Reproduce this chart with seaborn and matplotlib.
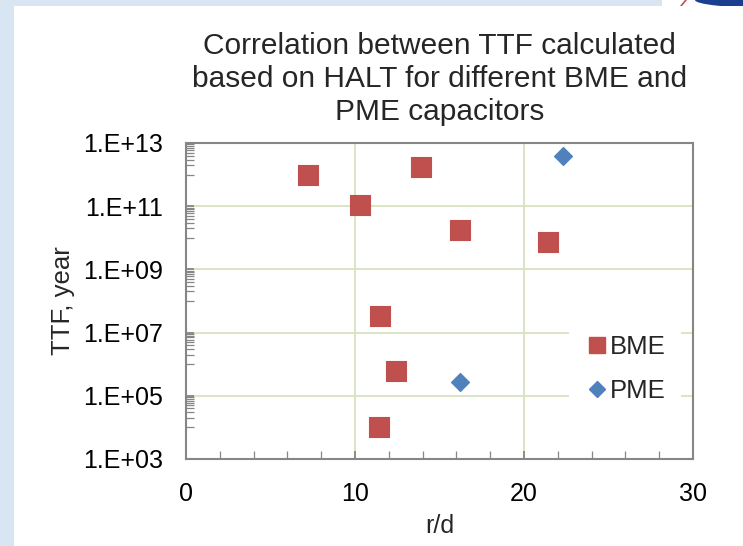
import numpy as np
import pandas as pd
import matplotlib
matplotlib.use("Agg")
import matplotlib.pyplot as plt
import matplotlib.ticker as mticker
from matplotlib.lines import Line2D
from matplotlib.patches import Rectangle, Ellipse
import seaborn as sns

# ---- data ----
bme_rd = [7.2, 10.3, 13.9, 16.2, 21.4, 11.5, 12.4, 11.4]
bme_ttf = [9.5e11, 1.1e11, 1.7e12, 1.8e10, 7.4e9, 3.4e7, 6.0e5, 1.0e4]
pme_rd = [16.2, 22.3]
pme_ttf = [2.8e5, 3.9e12]
series_names = ["BME", "PME"]
y_tick_vals = [1e3, 1e5, 1e7, 1e9, 1e11, 1e13]
y_tick_labels = ["1.E+03", "1.E+05", "1.E+07", "1.E+09", "1.E+11", "1.E+13"]
x_tick_vals = [0, 10, 20, 30]

df = pd.DataFrame({
    "rd": bme_rd + pme_rd,
    "ttf": bme_ttf + pme_ttf,
    "type": ["BME"] * len(bme_rd) + ["PME"] * len(pme_rd),
})

sns.set_style("white")
plt.rcParams["font.family"] = ["Liberation Sans", "DejaVu Sans"]

W, H = 743, 546
fig = plt.figure(figsize=(W / 100, H / 100), dpi=100)
fig.patch.set_facecolor("#d8e6f3")
# white slide panel
fig.patches.append(Rectangle((14 / W, 0), 1, 1 - 6 / H, transform=fig.transFigure,
                             facecolor="white", edgecolor="none", zorder=-10))
# top-right logo fragment
fig.patches.append(Rectangle((662 / W, 1 - 6 / H), 1, 6 / H, transform=fig.transFigure,
                             facecolor="white", edgecolor="none", zorder=-12))
fig.patches.append(Ellipse((770 / W, 1.0), 150 / W, 16 / H, transform=fig.transFigure,
                           facecolor="#1b3f8f", edgecolor="none", zorder=-11))
fig.lines.append(Line2D([681 / W, 686 / W], [1 - 6 / H, 1.0], transform=fig.transFigure,
                        color="#c05050", linewidth=1.2, zorder=-11))

ax = fig.add_axes([186 / W, 1 - 459 / H, (693 - 186) / W, (459 - 143) / H])
ax.set_zorder(5)
ax.set_facecolor("white")

colors = {"BME": "#c0504d", "PME": "#4f81bd"}
sns.scatterplot(data=df[df.type == "BME"], x="rd", y="ttf", ax=ax, marker="s",
                color=colors["BME"], s=200, edgecolor=colors["BME"], linewidth=0.8,
                legend=False, zorder=3)
sns.scatterplot(data=df[df.type == "PME"], x="rd", y="ttf", ax=ax, marker="D",
                color=colors["PME"], s=85, edgecolor=colors["PME"], linewidth=0.8,
                legend=False, zorder=3)

ax.set_yscale("log")
ax.set_xlim(0, 30)
ax.set_ylim(1e3, 1e13)
ax.set_yticks(y_tick_vals)
ax.set_yticklabels(y_tick_labels)
ax.set_xticks(x_tick_vals)
minor_y = [k * 10.0 ** e for e in range(4, 13, 2) for k in range(1, 10)]
ax.yaxis.set_minor_locator(mticker.FixedLocator(minor_y))
ax.yaxis.set_minor_formatter(mticker.NullFormatter())
ax.xaxis.set_minor_locator(mticker.MultipleLocator(2))

ax.grid(True, which="major", color="#d7e4bd", linewidth=1.3, zorder=0)
ax.set_axisbelow(True)
for sp in ax.spines.values():
    sp.set_color("#868686")
    sp.set_linewidth(1.5)
ax.tick_params(axis="both", which="both", direction="in", color="#868686",
               left=True, bottom=True, labelsize=18, labelcolor="black")
ax.tick_params(axis="both", which="major", length=6, width=1.3, pad=16.5)
ax.tick_params(axis="both", which="minor", length=6, width=0.9)

ax.set_xlabel("r/d", fontsize=18, labelpad=6)
ax.set_ylabel("TTF, year", fontsize=18.5, labelpad=6)
ax.set_title("Correlation between TTF calculated\nbased on HALT for different BME and\nPME capacitors",
             fontsize=21.5, linespacing=1.22, pad=16.5)

handles = [
    Line2D([], [], marker="s", linestyle="none", color=colors["BME"], markersize=11),
    Line2D([], [], marker="D", linestyle="none", color=colors["PME"], markersize=8),
]
leg = ax.legend(handles, series_names, loc="center left", bbox_to_anchor=(0.73, 0.285),
                frameon=True, fontsize=18.5, handletextpad=0.0, handlelength=1.0,
                labelspacing=0.75, borderpad=0.6, fancybox=False)
leg.get_frame().set_facecolor("white")
leg.get_frame().set_edgecolor("none")
leg.get_frame().set_alpha(1)

fig.savefig("out.png", dpi=100, facecolor=fig.get_facecolor())
